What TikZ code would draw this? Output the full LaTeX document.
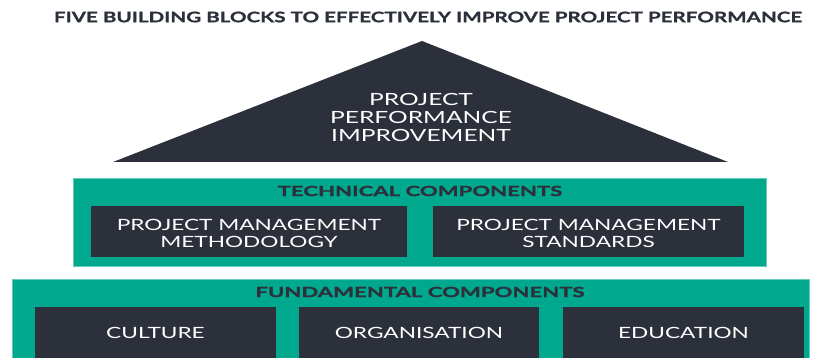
\documentclass[tikz,border=0pt]{standalone}
\usepackage{fontspec}
\setmainfont{Lato}
\newfontfamily\wfont[FakeStretch=1.46]{Lato}
\newfontfamily\bfont[FakeStretch=1.58,FakeBold=1.2]{Lato Bold}
\newfontfamily\tfont[FakeStretch=1.42,FakeBold=1.2]{Lato Bold}
\definecolor{teal1}{HTML}{00A88E}
\definecolor{dark1}{HTML}{2B303B}
\tikzset{
  greenbox/.style={fill=teal1, draw=teal1!60!white, line width=0.6pt},
  darkbox/.style={fill=dark1, draw=none, inner sep=0pt},
  whitetxt/.style={text=white, font=\wfont\fontsize{15.5}{17.5}\selectfont, align=center},
  headtxt/.style={text=dark1, font=\bfont\fontsize{14}{16}\selectfont},
}
\begin{document}
\begin{tikzpicture}[x=1pt,y=-1pt]
\useasboundingbox (0,0) rectangle (814,358);
% title
\node[text=dark1, font=\tfont\fontsize{14.5}{16}\selectfont] (title) at (428,17) {FIVE BUILDING BLOCKS TO EFFECTIVELY IMPROVE PROJECT PERFORMANCE};
% roof
\coordinate (apex) at (422,41);
\coordinate (bl) at (113,162);
\coordinate (br) at (728,162);
\fill[dark1] (apex) -- (br) -- (bl) -- cycle;
\node[whitetxt, font=\wfont\fontsize{16.8}{18}\selectfont] (roof) at (421,117.5) {PROJECT\\PERFORMANCE\\IMPROVEMENT};
% technical
\fill[greenbox] (73,178) rectangle (766,266);
\node[headtxt] (tech) at (420,191) {TECHNICAL COMPONENTS};
\fill[darkbox] (91,206) rectangle (407,257);
\fill[darkbox] (433,206) rectangle (744,257);
\node[whitetxt] (pmm) at (249,233.5) {PROJECT MANAGEMENT\\METHODOLOGY};
\node[whitetxt] (pms) at (588.5,233.5) {PROJECT MANAGEMENT\\STANDARDS};
% fundamental
\fill[greenbox] (12,279) rectangle (809,362);
\node[headtxt] (fund) at (420,292) {FUNDAMENTAL COMPONENTS};
\fill[darkbox] (35,307) rectangle (276,362);
\fill[darkbox] (299,307) rectangle (539,362);
\fill[darkbox] (563,307) rectangle (804,362);
\node[whitetxt] (cul) at (155.5,333) {CULTURE};
\node[whitetxt] (org) at (419,333) {ORGANISATION};
\node[whitetxt] (edu) at (683.5,333) {EDUCATION};
\end{tikzpicture}
\end{document}
